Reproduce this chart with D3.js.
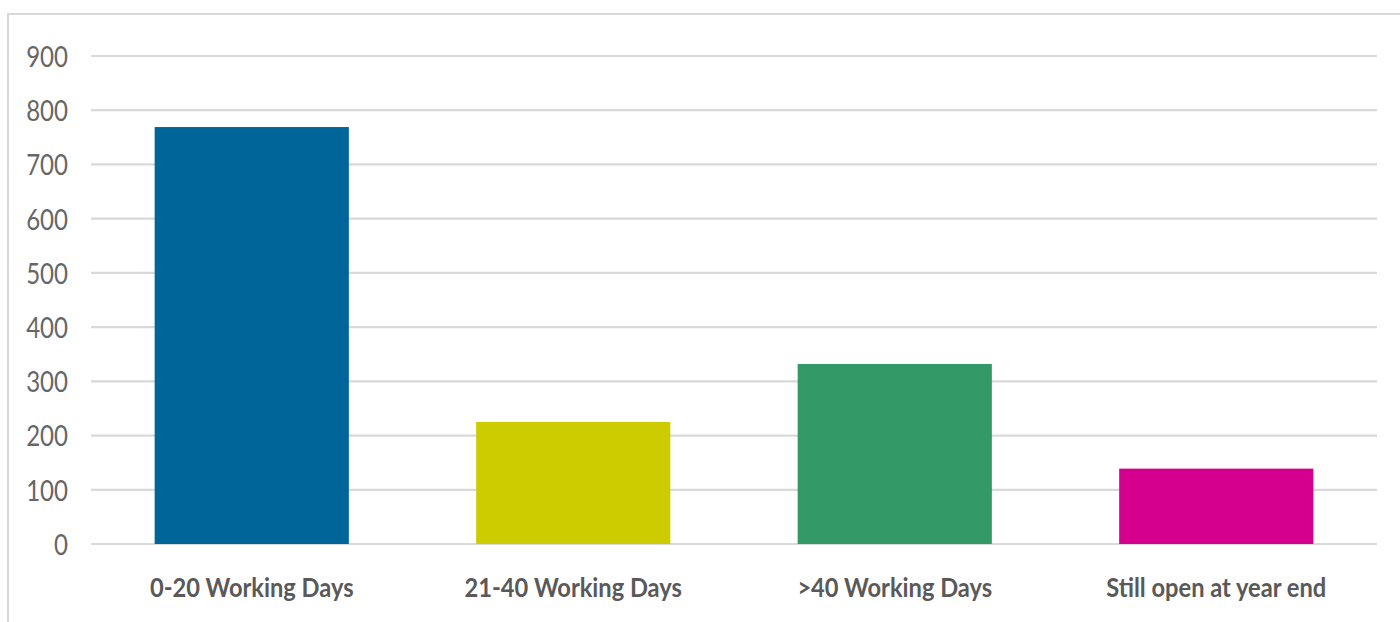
<!DOCTYPE html>
<html>
<head>
<meta charset="utf-8">
<script src="https://cdn.jsdelivr.net/npm/d3@7"></script>
<style>
  html, body { margin: 0; padding: 0; background: #fff; }
  svg { display: block; }
</style>
</head>
<body>
<svg id="chart" width="1400" height="622"></svg>
<script>
// Cases by time taken to close
const categories = ["0-20 Working Days", "21-40 Working Days", ">40 Working Days", "Still open at year end"];
const values = [769, 225, 332, 139];
const barColors = ["#006699", "#cccc00", "#339966", "#d6008f"];
const yTicks = [0, 100, 200, 300, 400, 500, 600, 700, 800, 900];

const svg = d3.select("#chart");
const W = 1400, H = 622;
const plot = { left: 91, right: 1377, top: 56, bottom: 544 };

// outer frame (runs off the right and bottom edges)
svg.append("rect")
  .attr("x", 8).attr("y", 14)
  .attr("width", W).attr("height", H)
  .attr("fill", "none")
  .attr("stroke", "#d9d9d9")
  .attr("stroke-width", 2);

const x = d3.scaleBand()
  .domain(categories)
  .range([plot.left, plot.right])
  .paddingInner(0.396)
  .paddingOuter(0.198);

const y = d3.scaleLinear()
  .domain([0, 900])
  .range([plot.bottom, plot.top]);

// horizontal gridlines
svg.append("g")
  .selectAll("line")
  .data(yTicks)
  .join("line")
  .attr("x1", plot.left).attr("x2", plot.right)
  .attr("y1", d => y(d)).attr("y2", d => y(d))
  .attr("stroke", "#d9d9d9")
  .attr("stroke-width", 2.2);

// bars
svg.append("g")
  .selectAll("rect")
  .data(values)
  .join("rect")
  .attr("x", (d, i) => x(categories[i]))
  .attr("width", x.bandwidth())
  .attr("y", d => y(d))
  .attr("height", d => y(0) - y(d))
  .attr("fill", (d, i) => barColors[i]);

// y-axis labels (no axis line), slightly condensed
const yAxis = d3.axisLeft(y).tickValues(yTicks).tickSize(0).tickPadding(0);
const ya = svg.append("g").attr("transform", "translate(68,0)").call(yAxis);
ya.select(".domain").remove();
ya.selectAll(".tick").each(function () {
  const t = d3.select(this);
  t.attr("transform", t.attr("transform") + " scale(0.83,1)");
});
ya.selectAll("text")
  .attr("font-family", "Lato, 'Open Sans', sans-serif")
  .attr("font-size", 29)
  .attr("fill", "#666666")
  .attr("dy", "0.36em")
  .attr("x", 0);

// category labels, condensed bold
const xAxis = d3.axisBottom(x).tickSize(0).tickPadding(0);
const xa = svg.append("g").attr("transform", "translate(0,597)").call(xAxis);
xa.select(".domain").remove();
xa.selectAll(".tick").each(function () {
  const t = d3.select(this);
  t.attr("transform", t.attr("transform") + " scale(0.91,1)");
});
xa.selectAll("text")
  .attr("font-family", "Lato, 'Open Sans', sans-serif")
  .attr("font-weight", "bold")
  .attr("font-size", 26)
  .attr("fill", "#595959")
  .attr("dy", 0)
  .attr("y", 0);
</script>
</body>
</html>
